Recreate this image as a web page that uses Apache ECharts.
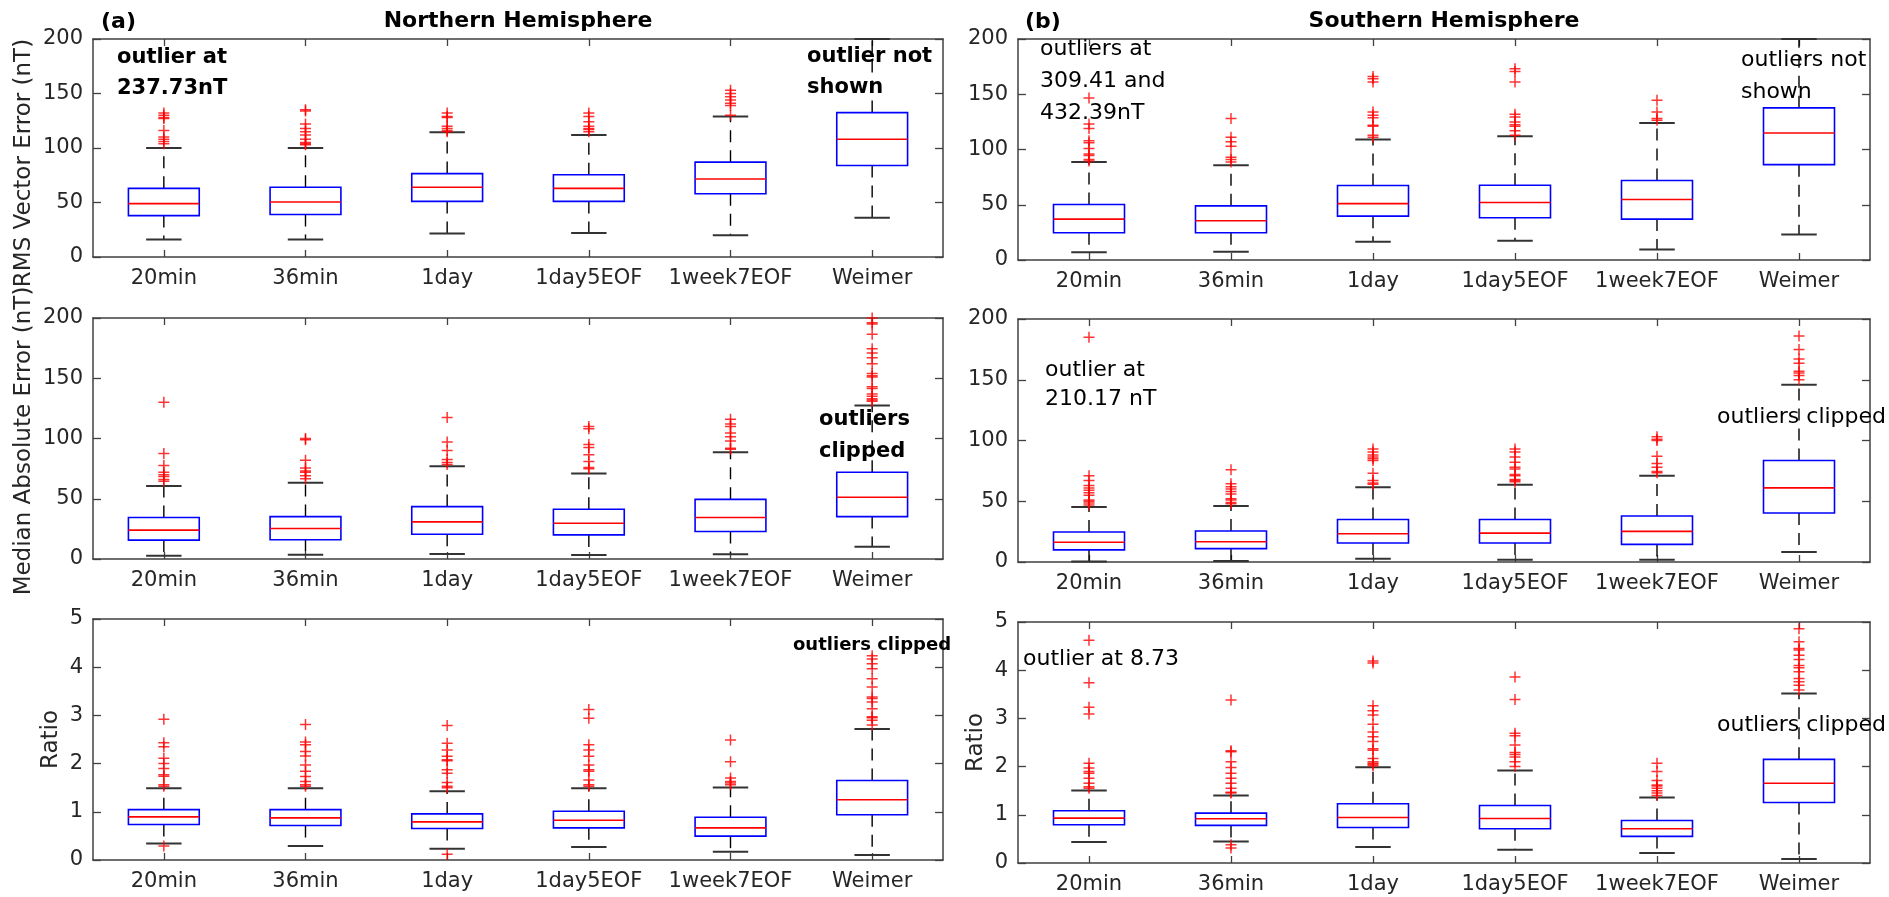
<!DOCTYPE html>
<html>
<head>
<meta charset="utf-8">
<script src="https://cdn.jsdelivr.net/npm/echarts@6/dist/echarts.min.js"></script>
<style>
  html, body { margin: 0; background: #fff; }
  #main { width: 1889px; height: 897px; }
</style>
</head>
<body>
<div id="main"></div>
<script>
var categories = ["20min", "36min", "1day", "1day5EOF", "1week7EOF", "Weimer"];

// box rows: [lower whisker, q1, median, q3, upper whisker]
var nhRmsBox = [
  [16, 38, 49, 63, 100],
  [16, 39, 50.5, 64, 100],
  [21.5, 51, 64, 76.5, 114.5],
  [22, 51, 63, 75.5, 112],
  [20, 58, 71.5, 87, 129],
  [36, 84, 108, 132.5, 200]
];
var nhRmsOut = [
  [104, 106, 108, 110, 116, 127, 128, 130, 132],
  [103, 104, 105, 108, 112, 115, 118, 122, 134, 135],
  [115, 116, 118, 120, 128, 129, 132],
  [115, 117, 118, 120, 124, 129, 132],
  [130, 139, 141, 144, 147, 150, 153],
  []
];

var shRmsBox = [
  [7, 24.7, 37, 50.2, 88.7],
  [7.5, 24.7, 35.5, 49, 85.7],
  [16.5, 39.7, 51, 67.4, 109],
  [17.4, 38.2, 52, 67.7, 112],
  [9.6, 37, 54.7, 72, 124],
  [23, 86.3, 115, 137.7, 200]
];
var shRmsOut = [
  [89.5, 91, 94.5, 96, 101, 106, 108, 119, 123, 146.5],
  [88.7, 91, 93, 103, 107, 111, 128],
  [111, 113, 121, 122, 128.7, 131, 134, 161, 164, 166],
  [113, 117, 121, 122.5, 125, 129.5, 132, 161, 170.5, 173],
  [126.5, 128, 134, 144.5],
  []
];

var nhMaeBox = [
  [2.75, 15.7, 24, 34.4, 60.5],
  [3.6, 16, 25.3, 35.2, 63.3],
  [4.1, 20.6, 30.8, 43.5, 77],
  [3.3, 20, 29.7, 41.3, 71],
  [3.9, 22.8, 34.4, 49.5, 88.6],
  [10.2, 35.2, 51.2, 72, 127.4]
];
var nhMaeOut = [
  [64.5, 66, 68.5, 70, 72, 77.5, 87.5, 130],
  [66.5, 69, 72, 73, 75.5, 82, 99, 100],
  [78.5, 80, 82.5, 90, 97, 117.5],
  [75, 76, 81, 86.5, 92.5, 95, 108, 110],
  [91, 92, 98, 101.5, 104.5, 110, 112, 116],
  [131, 132, 133, 135, 137, 141.5, 143, 151, 152, 154, 162, 167, 171, 174.5, 186.5, 195, 196, 200]
];

var shMaeBox = [
  [0.5, 10, 16.2, 24.7, 45.2],
  [0.8, 11, 16.7, 25.5, 46],
  [2.7, 15.6, 23.3, 35, 61.6],
  [1.9, 15.6, 23.8, 35, 63.6],
  [1.9, 14.5, 25.2, 37.8, 71],
  [8.2, 40.3, 61, 83.6, 145.8]
];
var shMaeOut = [
  [47, 48.5, 50, 51, 55, 57, 59, 61, 63, 67, 71, 185],
  [48, 49, 51, 52, 56, 58, 60, 62, 64.5, 76],
  [64, 65, 67, 73, 83.5, 85, 86.5, 88, 90.5, 93],
  [66, 67, 68, 71, 72, 76.5, 78, 82, 86.5, 90.5, 93],
  [73.5, 74.5, 78, 81, 87, 100, 101, 103],
  [150, 153.5, 155.5, 157, 163.5, 167, 175, 186]
];

var nhRatioBox = [
  [0.344, 0.736, 0.894, 1.045, 1.49],
  [0.289, 0.715, 0.873, 1.045, 1.49],
  [0.234, 0.653, 0.79, 0.956, 1.424],
  [0.268, 0.667, 0.825, 1.01, 1.49],
  [0.172, 0.495, 0.667, 0.887, 1.506],
  [0.103, 0.94, 1.25, 1.65, 2.72]
];
var nhRatioOut = [
  [0.29, 1.53, 1.56, 1.74, 1.77, 1.9, 2.0, 2.11, 2.35, 2.43, 2.92],
  [1.53, 1.56, 1.63, 1.73, 1.84, 1.97, 2.16, 2.25, 2.39, 2.45, 2.81],
  [0.117, 1.5, 1.53, 1.61, 1.8, 1.87, 2.06, 2.08, 2.15, 2.28, 2.42, 2.79],
  [1.53, 1.56, 1.66, 1.84, 1.87, 1.97, 2.15, 2.28, 2.39, 2.94, 3.12],
  [1.56, 1.6, 1.63, 1.7, 2.04, 2.49],
  [2.8, 2.9, 2.95, 2.97, 3.14, 3.28, 3.35, 3.38, 3.59, 3.76, 3.97, 4.07, 4.17, 4.24]
];

var shRatioBox = [
  [0.434, 0.793, 0.93, 1.083, 1.503],
  [0.448, 0.78, 0.917, 1.034, 1.4],
  [0.331, 0.738, 0.945, 1.228, 1.986],
  [0.276, 0.71, 0.924, 1.193, 1.917],
  [0.207, 0.552, 0.71, 0.883, 1.36],
  [0.083, 1.255, 1.655, 2.15, 3.517]
];
var shRatioOut = [
  [1.55, 1.58, 1.655, 1.76, 1.86, 1.9, 1.97, 2.07, 3.09, 3.23, 3.74, 4.62],
  [0.31, 0.38, 1.45, 1.47, 1.55, 1.655, 1.76, 1.86, 1.98, 2.1, 2.31, 2.33, 3.38],
  [2.02, 2.05, 2.07, 2.1, 2.17, 2.34, 2.37, 2.52, 2.62, 2.72, 2.88, 3.07, 3.16, 3.26, 4.15, 4.19],
  [2.0, 2.1, 2.2, 2.25, 2.29, 2.45, 2.64, 2.69, 3.39, 3.86],
  [1.4, 1.45, 1.5, 1.55, 1.6, 1.62, 1.71, 1.9, 2.07],
  [3.59, 3.69, 3.76, 3.83, 3.97, 4.05, 4.1, 4.22, 4.31, 4.42, 4.45, 4.59, 4.86]
];

var FONT = "DejaVu Sans";
var AXIS_COLOR = "#404040";
var TEXT_COLOR = "#262626";

var panels = [
  { box: nhRmsBox, out: nhRmsOut, max: 200, step: 50, left: 93, top: 39, width: 850, height: 218, name: "" },
  { box: shRmsBox, out: shRmsOut, max: 200, step: 50, left: 1018, top: 39, width: 852, height: 221, name: "" },
  { box: nhMaeBox, out: nhMaeOut, max: 200, step: 50, left: 93, top: 318, width: 850, height: 241, name: "" },
  { box: shMaeBox, out: shMaeOut, max: 200, step: 50, left: 1018, top: 319, width: 852, height: 243, name: "" },
  { box: nhRatioBox, out: nhRatioOut, max: 5, step: 1, left: 93, top: 619, width: 850, height: 241, name: "Ratio" },
  { box: shRatioBox, out: shRatioOut, max: 5, step: 1, left: 1018, top: 622, width: 852, height: 241, name: "Ratio" }
];

function renderBox(params, api) {
  var x = api.value(0);
  var lo = api.coord([x, api.value(1)]);
  var q1 = api.coord([x, api.value(2)]);
  var med = api.coord([x, api.value(3)]);
  var q3 = api.coord([x, api.value(4)]);
  var hi = api.coord([x, api.value(5)]);
  var band = api.size([1, 0])[0];
  var half = band * 0.25;
  var cap = band * 0.125;
  var cx = lo[0];
  var dash = { stroke: "#000", lineWidth: 1.4, lineDash: [12, 8] };
  var solid = { stroke: "#333", lineWidth: 2 };
  return {
    type: "group",
    children: [
      { type: "line", shape: { x1: cx, y1: q3[1], x2: cx, y2: hi[1] }, style: dash },
      { type: "line", shape: { x1: cx, y1: q1[1], x2: cx, y2: lo[1] }, style: dash },
      { type: "line", shape: { x1: cx - cap, y1: hi[1], x2: cx + cap, y2: hi[1] }, style: solid },
      { type: "line", shape: { x1: cx - cap, y1: lo[1], x2: cx + cap, y2: lo[1] }, style: solid },
      { type: "rect", shape: { x: cx - half, y: q3[1], width: half * 2, height: q1[1] - q3[1] },
        style: { fill: "none", stroke: "#0000ff", lineWidth: 1.6 } },
      { type: "line", shape: { x1: cx - half, y1: med[1], x2: cx + half, y2: med[1] },
        style: { stroke: "#ff0000", lineWidth: 1.6 } }
    ]
  };
}

var grids = [], xAxes = [], yAxes = [], series = [];
panels.forEach(function (p, i) {
  grids.push({ left: p.left, top: p.top, width: p.width, height: p.height });
  var tickStyle = { color: AXIS_COLOR, width: 1.3 };
  ["bottom", "top"].forEach(function (pos) {
    xAxes.push({
      type: "category", gridIndex: i, position: pos, data: categories,
      axisLine: { show: true, onZero: false, lineStyle: { color: AXIS_COLOR, width: 1.5 } },
      axisTick: { show: true, inside: true, alignWithLabel: true, interval: 0, length: 7, lineStyle: tickStyle },
      axisLabel: { show: pos === "bottom", interval: 0, color: TEXT_COLOR, fontSize: 21, fontFamily: FONT, margin: 11 },
      splitLine: { show: false }
    });
  });
  ["left", "right"].forEach(function (pos) {
    yAxes.push({
      type: "value", gridIndex: i, position: pos, min: 0, max: p.max, interval: p.step,
      name: pos === "left" ? p.name : "",
      nameLocation: "middle", nameGap: 30,
      nameTextStyle: { color: TEXT_COLOR, fontSize: 23, fontFamily: FONT },
      axisLine: { show: true, onZero: false, lineStyle: { color: AXIS_COLOR, width: 1.5 } },
      axisTick: { show: true, inside: true, length: 8, lineStyle: tickStyle },
      axisLabel: { show: pos === "left", color: TEXT_COLOR, fontSize: 21, fontFamily: FONT, margin: 10 },
      splitLine: { show: false }
    });
  });

  var boxData = p.box.map(function (b, k) { return [k].concat(b); });
  series.push({
    type: "custom", xAxisIndex: 2 * i, yAxisIndex: 2 * i,
    renderItem: renderBox, encode: { x: 0, y: [1, 2, 3, 4, 5] },
    data: boxData, z: 2
  });

  var outData = [];
  p.out.forEach(function (vals, k) {
    vals.forEach(function (v) { outData.push([k, v]); });
  });
  series.push({
    type: "scatter", xAxisIndex: 2 * i, yAxisIndex: 2 * i,
    symbol: "path://M0,5L10,5M5,0L5,10", symbolSize: 11,
    itemStyle: { color: "rgba(0,0,0,0)", borderColor: "#ff0000", borderWidth: 1.5 },
    data: outData, z: 3, silent: true
  });
});

function txt(x, y, s, size, bold, align, lh) {
  return {
    type: "text", x: x, y: y, z: 10,
    style: {
      text: s, fill: "#000", font: (bold ? "bold " : "") + size + "px " + FONT,
      align: align || "left", verticalAlign: "middle", lineHeight: lh || size * 1.45
    }
  };
}

var graphics = [
  txt(101, 22, "(a)", 22, true),
  txt(518, 21, "Northern Hemisphere", 22, true, "center"),
  txt(1025, 22, "(b)", 22, true),
  txt(1444, 21, "Southern Hemisphere", 22, true, "center"),
  txt(117, 73, "outlier at\n237.73nT", 21, true, "left", 31),
  txt(807, 72, "outlier not\nshown", 21, true, "left", 31),
  txt(1040, 81, "outliers at\n309.41 and\n432.39nT", 22, false, "left", 32),
  txt(1741, 76, "outliers not\nshown", 22, false, "left", 32),
  txt(819, 436, "outliers\nclipped", 21, true, "left", 32),
  txt(1045, 385, "outlier at\n210.17 nT", 22, false, "left", 29),
  txt(1717, 417, "outliers clipped", 22, false),
  txt(793, 645, "outliers clipped", 18, true),
  txt(1023, 659, "outlier at 8.73", 22, false),
  txt(1717, 725, "outliers clipped", 22, false),
  {
    type: "text", x: 24, y: 441, rotation: Math.PI / 2, z: 10,
    style: { text: "Median Absolute Error (nT)", fill: TEXT_COLOR, font: "23px " + FONT,
      align: "center", verticalAlign: "middle" }
  },
  {
    type: "text", x: 24, y: 163, rotation: Math.PI / 2, z: 10,
    style: { text: "RMS Vector Error (nT)", fill: TEXT_COLOR, font: "23px " + FONT,
      align: "center", verticalAlign: "middle" }
  }
];

var chart = echarts.init(document.getElementById("main"));
chart.setOption({
  animation: false,
  backgroundColor: "#fff",
  grid: grids,
  xAxis: xAxes,
  yAxis: yAxes,
  series: series,
  graphic: graphics
});
</script>
</body>
</html>
